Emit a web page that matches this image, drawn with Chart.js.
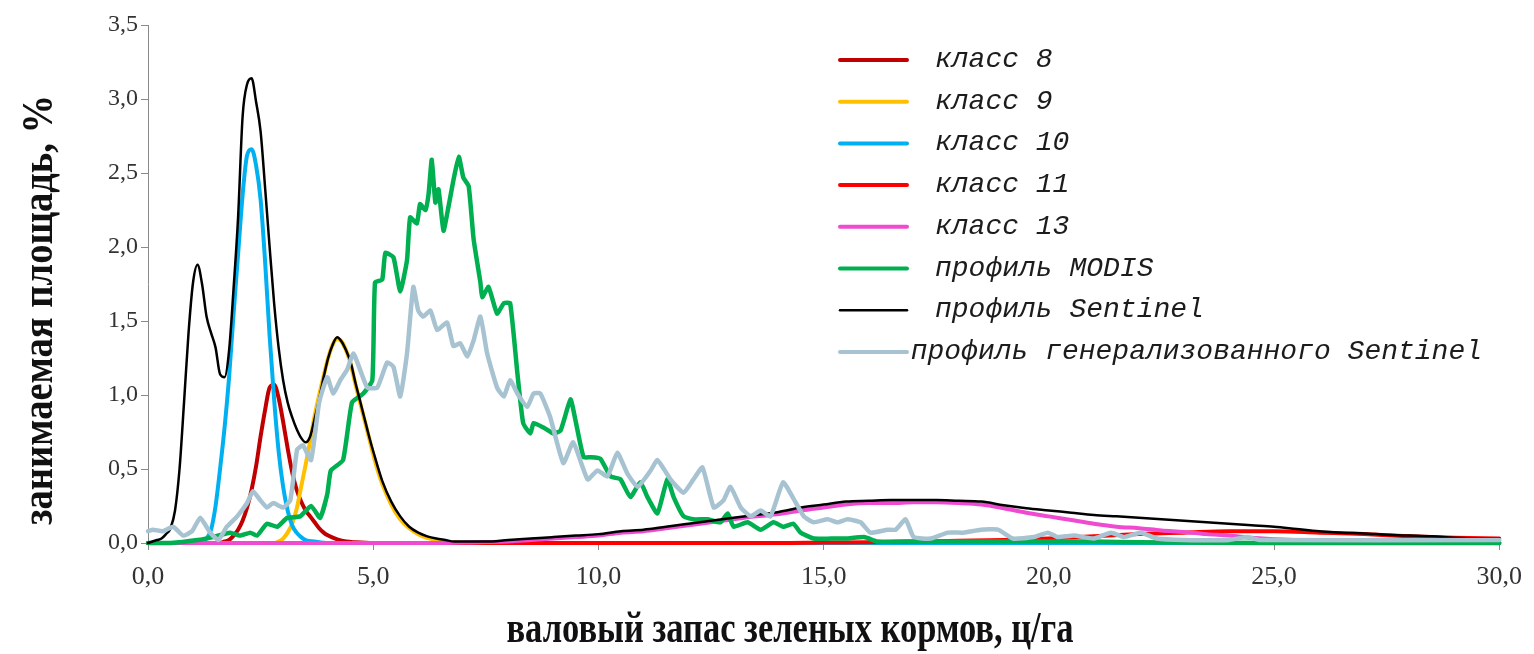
<!DOCTYPE html>
<html>
<head>
<meta charset="utf-8">
<script src="https://cdn.jsdelivr.net/npm/chart.js@4.4.1/dist/chart.umd.min.js"></script>
<style>
  html, body { margin: 0; padding: 0; background: #ffffff; }
  canvas { display: block; }
</style>
</head>
<body>
<canvas id="chart" width="1534" height="654"></canvas>
<script>
// ---- series names ----
const seriesLabels = [
  'класс 8', 'класс 9', 'класс 10', 'класс 11', 'класс 13',
  'профиль MODIS', 'профиль Sentinel', 'профиль генерализованного Sentinel'
];

// ---- axis titles ----
const xTitleText = 'валовый запас зеленых кормов, ц/га';
const yTitleText = 'занимаемая площадь, %';

// ---- axis ticks ----
const xTicks = [0, 5, 10, 15, 20, 25, 30];
const yTicks = [0, 0.5, 1, 1.5, 2, 2.5, 3, 3.5];

// ---- класс 8 ----
const class8X = [0, 1.6, 1.7, 1.8, 1.9, 2.0, 2.1, 2.2, 2.3, 2.4, 2.5, 2.6, 2.7, 2.8, 2.9, 3.0, 3.1, 3.2, 3.3, 3.4, 3.5, 3.6, 3.7, 3.8, 3.9, 4.0, 4.2, 4.4, 4.6, 5.0, 30];
const class8Y = [0, 0, 0.01, 0.02, 0.05, 0.09, 0.15, 0.24, 0.36, 0.52, 0.72, 0.90, 1.05, 1.07, 0.98, 0.82, 0.64, 0.48, 0.36, 0.28, 0.22, 0.18, 0.14, 0.10, 0.07, 0.05, 0.025, 0.01, 0.005, 0, 0];

// ---- класс 9 ----
const class9X = [0, 2.8, 2.9, 3.0, 3.1, 3.2, 3.3, 3.4, 3.5, 3.6, 3.7, 3.8, 3.9, 4.0, 4.1, 4.2, 4.3, 4.4, 4.5, 4.6, 4.7, 4.8, 4.9, 5.0, 5.1, 5.2, 5.4, 5.6, 5.8, 6.0, 6.2, 6.4, 6.6, 7.0, 30];
const class9Y = [0, 0, 0.01, 0.03, 0.07, 0.13, 0.23, 0.38, 0.53, 0.69, 0.86, 1.0, 1.13, 1.25, 1.34, 1.38, 1.36, 1.30, 1.21, 1.08, 0.96, 0.84, 0.72, 0.60, 0.49, 0.40, 0.26, 0.16, 0.10, 0.06, 0.035, 0.02, 0.01, 0, 0];

// ---- класс 10 ----
const class10X = [0, 1.0, 1.1, 1.2, 1.3, 1.4, 1.5, 1.6, 1.7, 1.8, 1.9, 2.0, 2.1, 2.2, 2.3, 2.4, 2.5, 2.6, 2.7, 2.8, 2.9, 3.0, 3.1, 3.2, 3.3, 3.4, 3.5, 3.7, 4.0, 30];
const class10Y = [0, 0, 0.005, 0.01, 0.03, 0.09, 0.25, 0.50, 0.78, 1.12, 1.55, 1.95, 2.35, 2.62, 2.66, 2.55, 2.32, 1.90, 1.40, 0.97, 0.62, 0.38, 0.22, 0.12, 0.07, 0.04, 0.02, 0.01, 0, 0];

// ---- класс 11 ----
const class11X = [0, 14, 15, 16, 17, 18, 19, 20, 21, 22, 23, 24, 25, 26, 27, 28, 29, 30];
const class11Y = [0, 0, 0.003, 0.005, 0.01, 0.015, 0.02, 0.03, 0.045, 0.06, 0.07, 0.08, 0.08, 0.07, 0.06, 0.045, 0.035, 0.03];

// ---- класс 13 ----
const class13X = [0, 6.5, 7, 7.5, 8, 8.5, 9, 9.5, 10, 10.5, 11, 11.5, 12, 12.5, 13, 13.5, 14, 14.5, 15, 15.5, 16, 16.5, 17, 17.5, 18, 18.5, 19, 19.5, 20, 20.5, 21, 21.5, 22, 22.5, 23, 23.5, 24, 24.5, 25, 26, 27, 28, 30];
const class13Y = [0, 0, 0.003, 0.006, 0.01, 0.02, 0.03, 0.04, 0.05, 0.07, 0.08, 0.10, 0.12, 0.14, 0.16, 0.18, 0.195, 0.22, 0.24, 0.26, 0.27, 0.27, 0.275, 0.275, 0.27, 0.26, 0.235, 0.205, 0.18, 0.155, 0.13, 0.11, 0.10, 0.085, 0.075, 0.06, 0.05, 0.035, 0.025, 0.015, 0.01, 0.005, 0];

// ---- профиль MODIS ----
const modisX = [0, 0.5, 1.1, 1.44, 1.82, 2.04, 2.27, 2.42, 2.64, 2.87, 3.09, 3.38, 3.62, 3.82, 3.98, 4.06, 4.33, 4.53, 4.78, 4.98, 5.04, 5.2, 5.27, 5.45, 5.6, 5.75, 5.82, 5.97, 6.04, 6.16, 6.23, 6.3, 6.38, 6.45, 6.56, 6.67, 6.78, 6.9, 7.0, 7.12, 7.23, 7.38, 7.42, 7.56, 7.75, 7.9, 8.04, 8.2, 8.33, 8.49, 8.56, 8.78, 9.0, 9.16, 9.38, 9.49, 9.67, 9.82, 10.04, 10.27, 10.49, 10.71, 10.93, 11.09, 11.31, 11.53, 11.67, 11.89, 12.11, 12.42, 12.71, 12.87, 13.0, 13.31, 13.6, 13.89, 14.1, 14.33, 14.49, 14.78, 15.16, 15.5, 15.9, 16.2, 17, 18, 19, 20, 21, 22, 25, 30];
const modisY = [0, 0, 0.02, 0.04, 0.07, 0.05, 0.07, 0.05, 0.13, 0.11, 0.17, 0.18, 0.25, 0.17, 0.33, 0.49, 0.56, 0.95, 1.01, 1.10, 1.76, 1.78, 1.96, 1.93, 1.70, 1.91, 2.20, 2.16, 2.29, 2.25, 2.36, 2.59, 2.30, 2.39, 2.11, 2.27, 2.45, 2.61, 2.47, 2.41, 2.05, 1.76, 1.66, 1.73, 1.55, 1.62, 1.62, 1.15, 0.81, 0.74, 0.81, 0.78, 0.74, 0.76, 0.97, 0.83, 0.58, 0.58, 0.57, 0.45, 0.43, 0.31, 0.41, 0.31, 0.20, 0.43, 0.31, 0.18, 0.16, 0.16, 0.14, 0.20, 0.11, 0.14, 0.09, 0.14, 0.11, 0.13, 0.07, 0.03, 0.03, 0.03, 0.04, 0.01, 0.01, 0.01, 0.01, 0.01, 0.01, 0.005, 0, 0];

// ---- профиль Sentinel ----
const sentinelX = [0, 0.1, 0.2, 0.3, 0.4, 0.5, 0.6, 0.7, 0.8, 0.9, 1.0, 1.1, 1.2, 1.3, 1.4, 1.5, 1.6, 1.7, 1.8, 1.9, 2.0, 2.1, 2.2, 2.3, 2.4, 2.5, 2.6, 2.7, 2.8, 2.9, 3.0, 3.1, 3.2, 3.3, 3.4, 3.5, 3.6, 3.7, 3.8, 3.9, 4.0, 4.1, 4.2, 4.3, 4.4, 4.5, 4.6, 4.7, 4.8, 4.9, 5.0, 5.2, 5.4, 5.6, 5.8, 6.0, 6.2, 6.4, 6.6, 6.8, 7.0, 7.5, 8.0, 8.5, 9.0, 9.5, 10, 10.5, 11, 11.5, 12, 12.5, 13, 13.5, 14, 14.5, 15, 15.5, 16, 16.5, 17, 17.5, 18, 18.5, 19, 19.5, 20, 20.5, 21, 21.5, 22, 22.5, 23, 23.5, 24, 24.5, 25, 25.5, 26, 26.5, 27, 27.5, 28, 28.5, 29, 29.5, 30];
const sentinelY = [0, 0.01, 0.02, 0.03, 0.06, 0.10, 0.22, 0.50, 0.95, 1.42, 1.76, 1.88, 1.75, 1.53, 1.42, 1.32, 1.14, 1.12, 1.30, 1.72, 2.20, 2.88, 3.10, 3.14, 2.98, 2.78, 2.40, 2.00, 1.62, 1.32, 1.10, 0.95, 0.85, 0.77, 0.71, 0.68, 0.72, 0.84, 0.97, 1.12, 1.25, 1.34, 1.39, 1.36, 1.30, 1.22, 1.09, 0.97, 0.85, 0.73, 0.62, 0.42, 0.28, 0.18, 0.11, 0.07, 0.045, 0.03, 0.02, 0.01, 0.01, 0.01, 0.02, 0.03, 0.04, 0.05, 0.06, 0.08, 0.09, 0.11, 0.13, 0.15, 0.17, 0.19, 0.21, 0.24, 0.26, 0.28, 0.285, 0.29, 0.29, 0.29, 0.285, 0.28, 0.255, 0.235, 0.22, 0.205, 0.19, 0.18, 0.17, 0.16, 0.15, 0.14, 0.13, 0.12, 0.11, 0.095, 0.08, 0.07, 0.065, 0.055, 0.05, 0.045, 0.035, 0.03, 0.03];

// ---- профиль генерализованного Sentinel ----
const genSentinelX = [0, 0.11, 0.33, 0.56, 0.78, 0.98, 1.16, 1.38, 1.56, 1.75, 1.98, 2.2, 2.33, 2.49, 2.64, 2.78, 3.0, 3.16, 3.31, 3.44, 3.62, 3.8, 3.98, 4.11, 4.27, 4.42, 4.56, 4.71, 4.87, 5.09, 5.31, 5.45, 5.6, 5.75, 5.89, 6.0, 6.11, 6.27, 6.42, 6.64, 6.78, 6.93, 7.09, 7.23, 7.38, 7.53, 7.75, 7.9, 8.04, 8.2, 8.42, 8.56, 8.71, 8.93, 9.22, 9.44, 9.76, 9.98, 10.2, 10.42, 10.64, 10.87, 11.16, 11.31, 11.6, 11.89, 12.11, 12.31, 12.56, 12.78, 12.93, 13.16, 13.38, 13.6, 13.82, 14.1, 14.33, 14.56, 14.78, 15.09, 15.31, 15.53, 15.82, 16.04, 16.42, 16.6, 16.82, 17.0, 17.38, 17.76, 18.1, 18.49, 18.87, 19.2, 19.67, 19.98, 20.2, 20.56, 21.0, 21.38, 21.67, 22.04, 22.4, 23.0, 24.0, 24.4, 24.7, 30];
const genSentinelY = [0.08, 0.09, 0.08, 0.11, 0.05, 0.08, 0.17, 0.07, 0.02, 0.11, 0.18, 0.27, 0.35, 0.29, 0.24, 0.27, 0.24, 0.29, 0.63, 0.66, 0.56, 0.95, 1.12, 1.01, 1.10, 1.17, 1.28, 1.17, 1.05, 1.05, 1.22, 1.19, 0.99, 1.28, 1.73, 1.57, 1.53, 1.57, 1.44, 1.49, 1.33, 1.35, 1.26, 1.37, 1.53, 1.28, 1.05, 0.99, 1.10, 1.01, 0.92, 1.01, 1.01, 0.85, 0.54, 0.68, 0.43, 0.49, 0.45, 0.61, 0.47, 0.38, 0.49, 0.56, 0.43, 0.34, 0.43, 0.51, 0.24, 0.29, 0.38, 0.24, 0.18, 0.22, 0.18, 0.41, 0.30, 0.18, 0.14, 0.16, 0.14, 0.16, 0.14, 0.07, 0.09, 0.09, 0.16, 0.04, 0.03, 0.07, 0.07, 0.09, 0.09, 0.03, 0.04, 0.07, 0.04, 0.05, 0.03, 0.07, 0.04, 0.07, 0.03, 0.02, 0.02, 0.04, 0.02, 0.02];

// ---- helpers ----
const toPoints = (xs, ys) => xs.map((x, i) => ({ x: x, y: ys[i] }));
const commaFixed = v => Number(v).toFixed(1).replace('.', ',');

const seriesX = [class8X, class9X, class10X, class11X, class13X, modisX, sentinelX, genSentinelX];
const seriesY = [class8Y, class9Y, class10Y, class11Y, class13Y, modisY, sentinelY, genSentinelY];
const seriesColors = ['#C00000', '#FFC000', '#00B0F0', '#FF0000', '#EE4BD0', '#00B050', '#000000', '#A7C3D1'];
const seriesWidths = [4, 4, 4, 4, 4, 4.5, 2.5, 4.5];
const seriesTension = [0.4, 0.4, 0.4, 0.4, 0.4, 0.15, 0.4, 0.15];

const datasets = seriesLabels.map((label, i) => ({
  label: label,
  data: toPoints(seriesX[i], seriesY[i]),
  borderColor: seriesColors[i],
  backgroundColor: seriesColors[i],
  borderWidth: seriesWidths[i],
  pointRadius: 0,
  pointHoverRadius: 0,
  tension: seriesTension[i],
  cubicInterpolationMode: seriesTension[i] > 0.3 ? 'monotone' : 'default',
  borderJoinStyle: 'round',
  borderCapStyle: 'round',
  fill: false,
  clip: 8,
  // later series are painted over earlier ones
  order: seriesLabels.length - i
}));

const SERIF = '"Liberation Serif", "Times New Roman", serif';

// legend drawn as a column of line samples with italic captions
const sideLegend = {
  id: 'sideLegend',
  afterDraw(chart) {
    const ctx = chart.ctx;
    const sampleStart = 840, sampleEnd = 907, textStart = 935, textLimit = 1482;
    const firstRow = 60, rowStep = 41.7;
    ctx.save();
    ctx.font = 'italic 28px "Liberation Mono", "DejaVu Sans Mono", monospace';
    ctx.textBaseline = 'alphabetic';
    chart.data.datasets.forEach((ds, i) => {
      const y = firstRow + i * rowStep;
      ctx.strokeStyle = ds.borderColor;
      ctx.lineWidth = Math.min(ds.borderWidth, 4);
      ctx.lineCap = 'round';
      ctx.beginPath();
      ctx.moveTo(sampleStart, y);
      ctx.lineTo(sampleEnd, y);
      ctx.stroke();
      const w = ctx.measureText(ds.label).width;
      const tx = Math.min(textStart, textLimit - w);
      ctx.fillStyle = '#1c1c1c';
      ctx.fillText(ds.label, tx, y + 7);
    });
    ctx.restore();
  }
};

// narrow bold serif axis titles
const axisTitles = {
  id: 'axisTitles',
  afterDraw(chart) {
    const ctx = chart.ctx;
    ctx.save();
    ctx.fillStyle = '#111111';
    ctx.textAlign = 'center';
    ctx.textBaseline = 'alphabetic';

    ctx.font = 'bold 45px ' + SERIF;
    let w = ctx.measureText(xTitleText).width;
    ctx.save();
    ctx.translate(790, 642);
    ctx.scale(567 / w, 1);
    ctx.fillText(xTitleText, 0, 0);
    ctx.restore();

    ctx.font = 'bold 44px ' + SERIF;
    w = ctx.measureText(yTitleText).width;
    ctx.save();
    ctx.translate(52, 310);
    ctx.rotate(-Math.PI / 2);
    ctx.scale(430 / w, 1);
    ctx.fillText(yTitleText, 0, 0);
    ctx.restore();

    ctx.restore();
  }
};

const PAD_LEFT = 0, PAD_BOTTOM = 0;
const AREA_LEFT = 148, AREA_BOTTOM = 543, CANVAS_H = 654;

new Chart(document.getElementById('chart'), {
  type: 'line',
  data: { datasets: datasets },
  plugins: [sideLegend, axisTitles],
  options: {
    responsive: false,
    animation: false,
    devicePixelRatio: 1,
    layout: { padding: { top: 25, right: 34, left: PAD_LEFT, bottom: PAD_BOTTOM } },
    plugins: {
      legend: { display: false },
      tooltip: { enabled: false }
    },
    scales: {
      x: {
        type: 'linear',
        min: xTicks[0],
        max: xTicks[xTicks.length - 1],
        afterBuildTicks(scale) { scale.ticks = xTicks.map(v => ({ value: v })); },
        afterFit(scale) { scale.height = CANVAS_H - AREA_BOTTOM - PAD_BOTTOM; },
        grid: { display: true, drawOnChartArea: false, drawTicks: true, tickLength: 7, color: '#8a8a8a', lineWidth: 1 },
        border: { display: true, color: '#8a8a8a', width: 1 },
        ticks: {
          callback: v => commaFixed(v),
          font: { family: SERIF, size: 26 },
          color: '#333333',
          padding: 12,
          maxRotation: 0
        },
        title: { display: false }
      },
      y: {
        type: 'linear',
        min: yTicks[0],
        max: yTicks[yTicks.length - 1],
        afterBuildTicks(scale) { scale.ticks = yTicks.map(v => ({ value: v })); },
        afterFit(scale) { scale.width = AREA_LEFT - PAD_LEFT; },
        grid: { display: true, drawOnChartArea: false, drawTicks: true, tickLength: 7, color: '#8a8a8a', lineWidth: 1 },
        border: { display: true, color: '#8a8a8a', width: 1 },
        ticks: {
          callback: v => commaFixed(v),
          font: { family: SERIF, size: 24 },
          color: '#333333',
          padding: 3
        },
        title: { display: false }
      }
    }
  }
});
</script>
</body>
</html>
